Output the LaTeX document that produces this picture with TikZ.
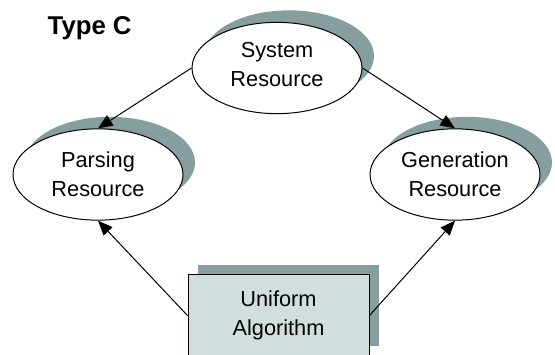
\documentclass[tikz,border=0pt]{standalone}
\usepackage{fontspec}
\setmainfont{Liberation Sans}
\usetikzlibrary{shapes.geometric,shadows,arrows.meta}
\definecolor{shadowc}{RGB}{134,159,158}
\definecolor{boxfill}{RGB}{210,222,222}
\begin{document}
\begin{tikzpicture}[x=0.75pt,y=-0.75pt,
  resource/.style={ellipse,draw=black,line width=0.75pt,fill=white,
    minimum width=127.5pt,minimum height=68.5pt,inner sep=0pt,align=center,
    font=\fontsize{16.3}{21.5}\selectfont,
    drop shadow={shadow xshift=9pt,shadow yshift=9pt,fill=shadowc,opacity=1}},
  algobox/.style={rectangle,draw=black,line width=0.75pt,fill=boxfill,
    minimum width=135.75pt,minimum height=61pt,inner sep=0pt,align=center,
    font=\fontsize{16.3}{21.5}\selectfont,
    drop shadow={shadow xshift=7.5pt,shadow yshift=7.5pt,fill=shadowc,opacity=1}},
  link/.style={line width=0.75pt,-{Triangle[length=11pt,width=9pt]}}]
\useasboundingbox (0,0) rectangle (555,354);

\node[anchor=base west,font=\fontsize{19.3}{23}\selectfont\bfseries] (title) at (43,34) {Type C};

\node[resource,text depth=5.5pt] (sys) at (277,68) {System\\Resource};
\node[resource] (pars) at (98,174.5) {Parsing\\Resource};
\node[resource] (gen) at (455,174.5) {Generation\\Resource};
\node[algobox] (algo) at (278.5,315.5) {Uniform\\Algorithm};

\draw[link] (sys.west) -- (pars.north);
\draw[link] (sys.east) -- (gen.north);
\draw[link] (algo.west) -- (pars.south);
\draw[link] (algo.east) -- (gen.south);
\end{tikzpicture}
\end{document}
